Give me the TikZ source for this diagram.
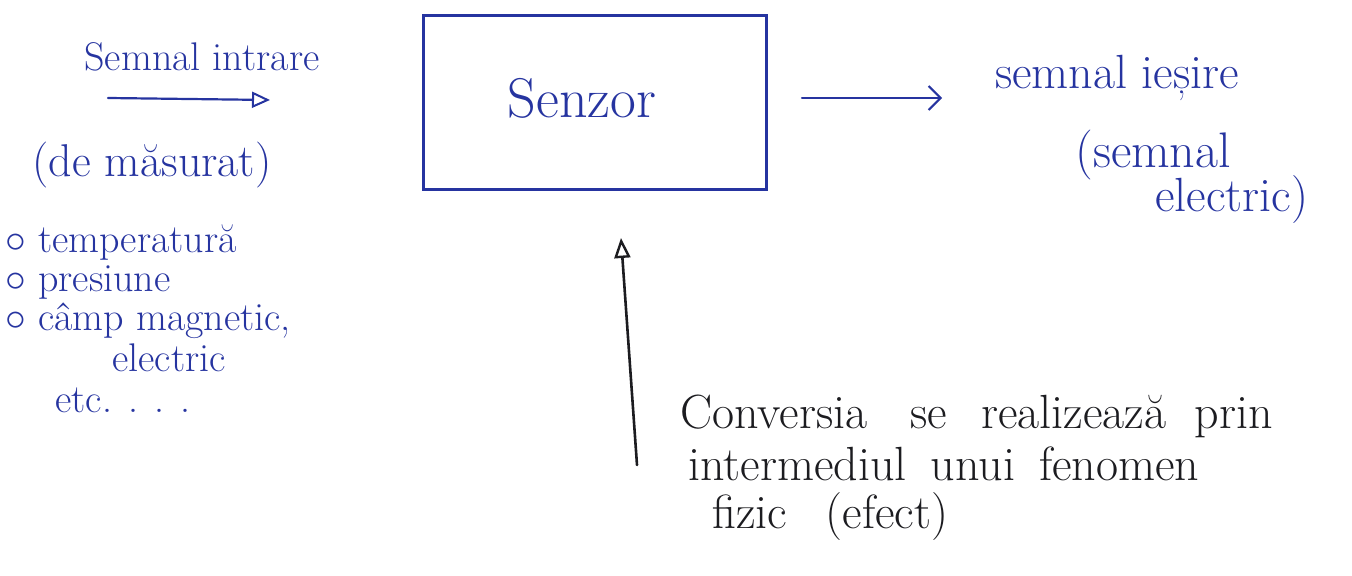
\documentclass[tikz,border=0pt]{standalone}
\usepackage{fontspec}
\usetikzlibrary{arrows.meta}
\definecolor{ink}{RGB}{38,52,160}
\definecolor{pencil}{RGB}{28,28,32}
\tikzset{
  note/.style={text=ink, inner sep=0pt, font=\fontsize{20}{23}\selectfont},
  bignote/.style={note, font=\fontsize{23}{26}\selectfont},
  blacknote/.style={text=pencil, inner sep=0pt, font=\fontsize{24}{27}\selectfont},
  inkline/.style={draw=ink, line width=1.1pt, line cap=round},
  openhead/.style={-{Triangle[open, length=9pt, width=8pt, line width=1pt]}},
  barbhead/.style={-{Straight Barb[length=6pt, width=12pt, line width=1pt]}},
}
\begin{document}
\begin{tikzpicture}[x=0.5pt, y=-0.5pt]
\useasboundingbox (0,0) rectangle (1352,576);

% sensor block
\node[inkline, line width=1.5pt, minimum width=171.5pt, minimum height=87pt,
      anchor=north west, inner sep=0pt] (sensor) at (422,14) {};
\node[note, font=\fontsize{28}{31}\selectfont] (sensorlabel) at (582,98) {Senzor};

% input side
\node[note] (inlabel) at (202,57) {Semnal intrare};
\coordinate (inA) at (108,98);
\coordinate (inB) at (270,100);
\draw[inkline, openhead] (inA) -- (inB);
\node[bignote] (inmeas) at (152,165) {(de măsurat)};

\node[note, anchor=west] (item1) at (5,243) {$\circ$ temperatură};
\node[note, anchor=west] (item2) at (5,283) {$\circ$ presiune};
\node[note, anchor=west] (item3) at (5,321) {$\circ$ câmp magnetic,};
\node[note, anchor=west] (item3b) at (112,358) {electric};
\node[note, anchor=west] (item4) at (55,400) {etc. . . .};

% output side
\coordinate (outA) at (802,98);
\coordinate (outB) at (942,98);
\draw[inkline, barbhead] (outA) -- (outB);
\node[bignote, font=\fontsize{24}{27}\selectfont] (outlabel) at (1117,78) {semnal ieșire};
\node[bignote, anchor=west, font=\fontsize{25}{28}\selectfont] (outsig) at (1075,155) {(semnal};
\node[bignote, anchor=west, font=\fontsize{24}{27}\selectfont] (outsig2) at (1155,200) {electric)};

% physical effect
\coordinate (effA) at (637,465);
\coordinate (effB) at (621,238);
\draw[draw=pencil, line width=1.3pt, line cap=round,
      -{Triangle[open, length=10pt, width=8pt, line width=1.2pt]}] (effA) -- (effB);
\node[blacknote, anchor=west] (conv1) at (680,416)
  {Conversia\hspace{0.9em}se\hspace{0.7em}realizează\hspace{0.6em}prin};
\node[blacknote, anchor=west] (conv2) at (688,464)
  {intermediul\hspace{0.5em}unui\hspace{0.5em}fenomen};
\node[blacknote, anchor=west] (conv3) at (712,517) {fizic\hspace{0.8em}(efect)};
\end{tikzpicture}
\end{document}
